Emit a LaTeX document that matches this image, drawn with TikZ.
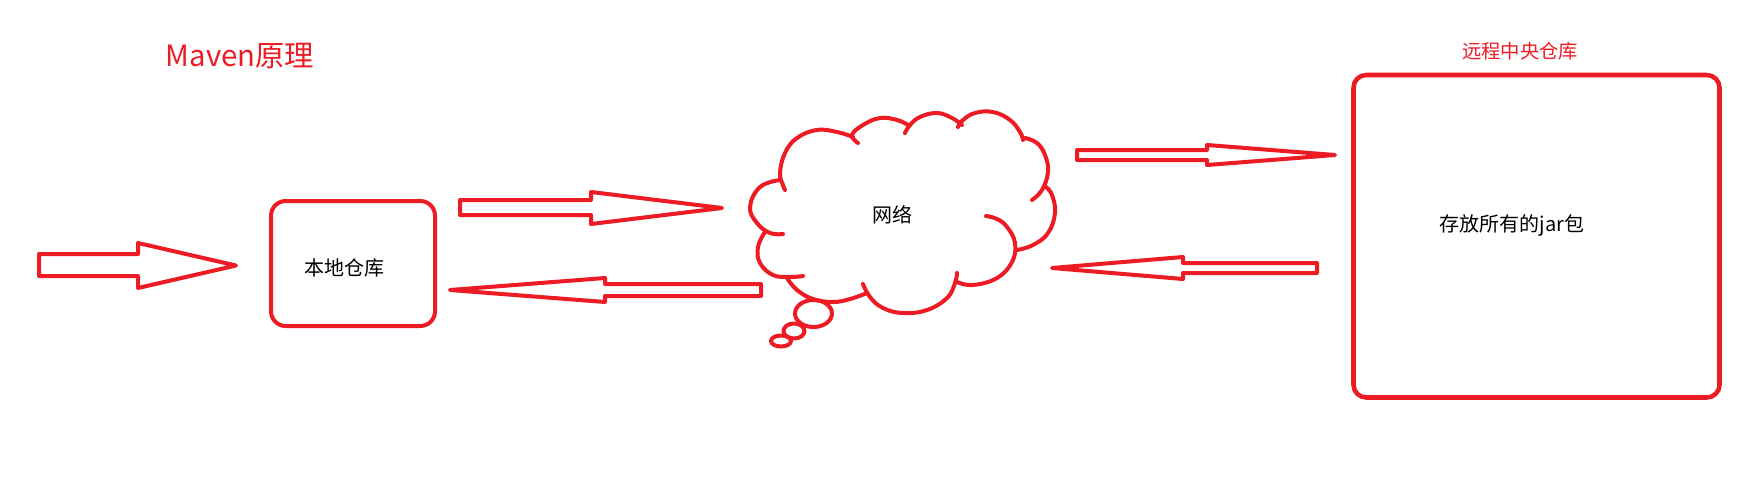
\documentclass[tikz,border=0pt]{standalone}
\usepackage{fontspec}
\setmainfont{Noto Sans CJK SC}
\begin{document}
\begin{tikzpicture}[x=0.75pt,y=-0.75pt,
  redline/.style={draw=pred,line width=3pt,line join=round,line cap=round},
  boxshape/.style={redline,rounded corners=11pt},
  lobe/.style={redline},
  blacktext/.style={inner sep=0pt,text=black,font=\fontsize{15}{18}\selectfont},
  redtext/.style={inner sep=0pt,text=pred}]
\definecolor{pred}{HTML}{ED1C24}
\useasboundingbox[fill=white] (0,0) rectangle (1754,486);

% titles
\node[redtext,font=\fontsize{22}{26}\selectfont] (title) at (240,56) {Maven原理};
\node[redtext,font=\fontsize{14.5}{17}\selectfont] (remotelabel) at (1520,51) {远程中央仓库};

% local repository
\draw[boxshape] (271,201) rectangle (435,326);
\node[blacktext] (local) at (344,268) {本地仓库};

% remote repository
\draw[boxshape,rounded corners=9.5pt,line width=3.4pt] (1353.5,75) rectangle (1719.5,397.5);
\node[blacktext] (remote) at (1512,225) {存放所有的jar包};

% block arrows
% arrow 1 (into local)
\draw[redline] (39,254) -- (138,254) -- (138,243) -- (236,265.5) -- (138,288) -- (138,276) -- (39,276) -- cycle;
% arrow 2 (local -> network)
\draw[redline] (460,200) -- (591,200) -- (591,192) -- (722,208) -- (591,224) -- (591,215) -- (460,215) -- cycle;
% arrow 3 (network -> local)
\draw[redline] (761,284) -- (605,284) -- (605,278) -- (450,290) -- (605,302) -- (605,296) -- (761,296) -- cycle;
% arrow 4 (network -> remote)
\draw[redline] (1077,150) -- (1207,150) -- (1207,145) -- (1335,155) -- (1207,165) -- (1207,160) -- (1077,160) -- cycle;
% arrow 5 (remote -> network)
\draw[redline] (1317,263) -- (1183,263) -- (1183,257) -- (1052,268) -- (1183,279) -- (1183,273) -- (1317,273) -- cycle;

% cloud
\draw[lobe] plot[smooth,tension=0.7] coordinates {(780,180) (760,187) (750,207) (757,223) (770,233) (783,234)};
\draw[lobe] plot[smooth,tension=0.7] coordinates {(765,232) (758,247) (760,263) (773,275) (790,277) (803,276)};
\draw[lobe] plot[smooth,tension=0.7] coordinates {(787,278) (797,290) (813,299) (833,302) (850,299) (867,293)};
\draw[lobe] plot[smooth,tension=0.7] coordinates {(863,284) (870,297) (883,308) (903,313) (927,310) (947,298) (955,283) (957,273)};
\draw[lobe] plot[smooth,tension=0.7] coordinates {(957,282) (973,285) (997,278) (1012,262) (1015,243) (1007,227) (997,219) (986,216)};
\draw[lobe] plot[smooth,tension=0.7] coordinates {(1017,250) (1033,245) (1048,233) (1055,213) (1052,195) (1046,187)};
\draw[lobe] plot[smooth,tension=0.7] coordinates {(1032,200) (1042,190) (1048,172) (1045,155) (1037,143) (1025,138)};
\draw[lobe] plot[smooth,tension=0.7] coordinates {(1023,140) (1020,132) (1010,120) (993,112) (975,113) (963,120) (958,127)};
\draw[lobe] plot[smooth,tension=0.7] coordinates {(962,125) (952,118) (937,113) (920,117) (910,125) (905,133)};
\draw[lobe] plot[smooth,tension=0.7] coordinates {(908,125) (897,120) (880,118) (863,125) (852,135) (858,143)};
\draw[lobe] plot[smooth,tension=0.7] coordinates {(853,137) (837,132) (817,130) (797,138) (785,153) (780,173) (783,185) (785,190)};
% thought bubbles
\draw[redline] (813.5,313.5) ellipse [x radius=18.5, y radius=13.5];
\draw[redline] (794,331) ellipse [x radius=10.5, y radius=7.5];
\draw[redline] (781,341) ellipse [x radius=10, y radius=5.5];
\node[blacktext] (net) at (892,215) {网络};
\end{tikzpicture}
\end{document}
